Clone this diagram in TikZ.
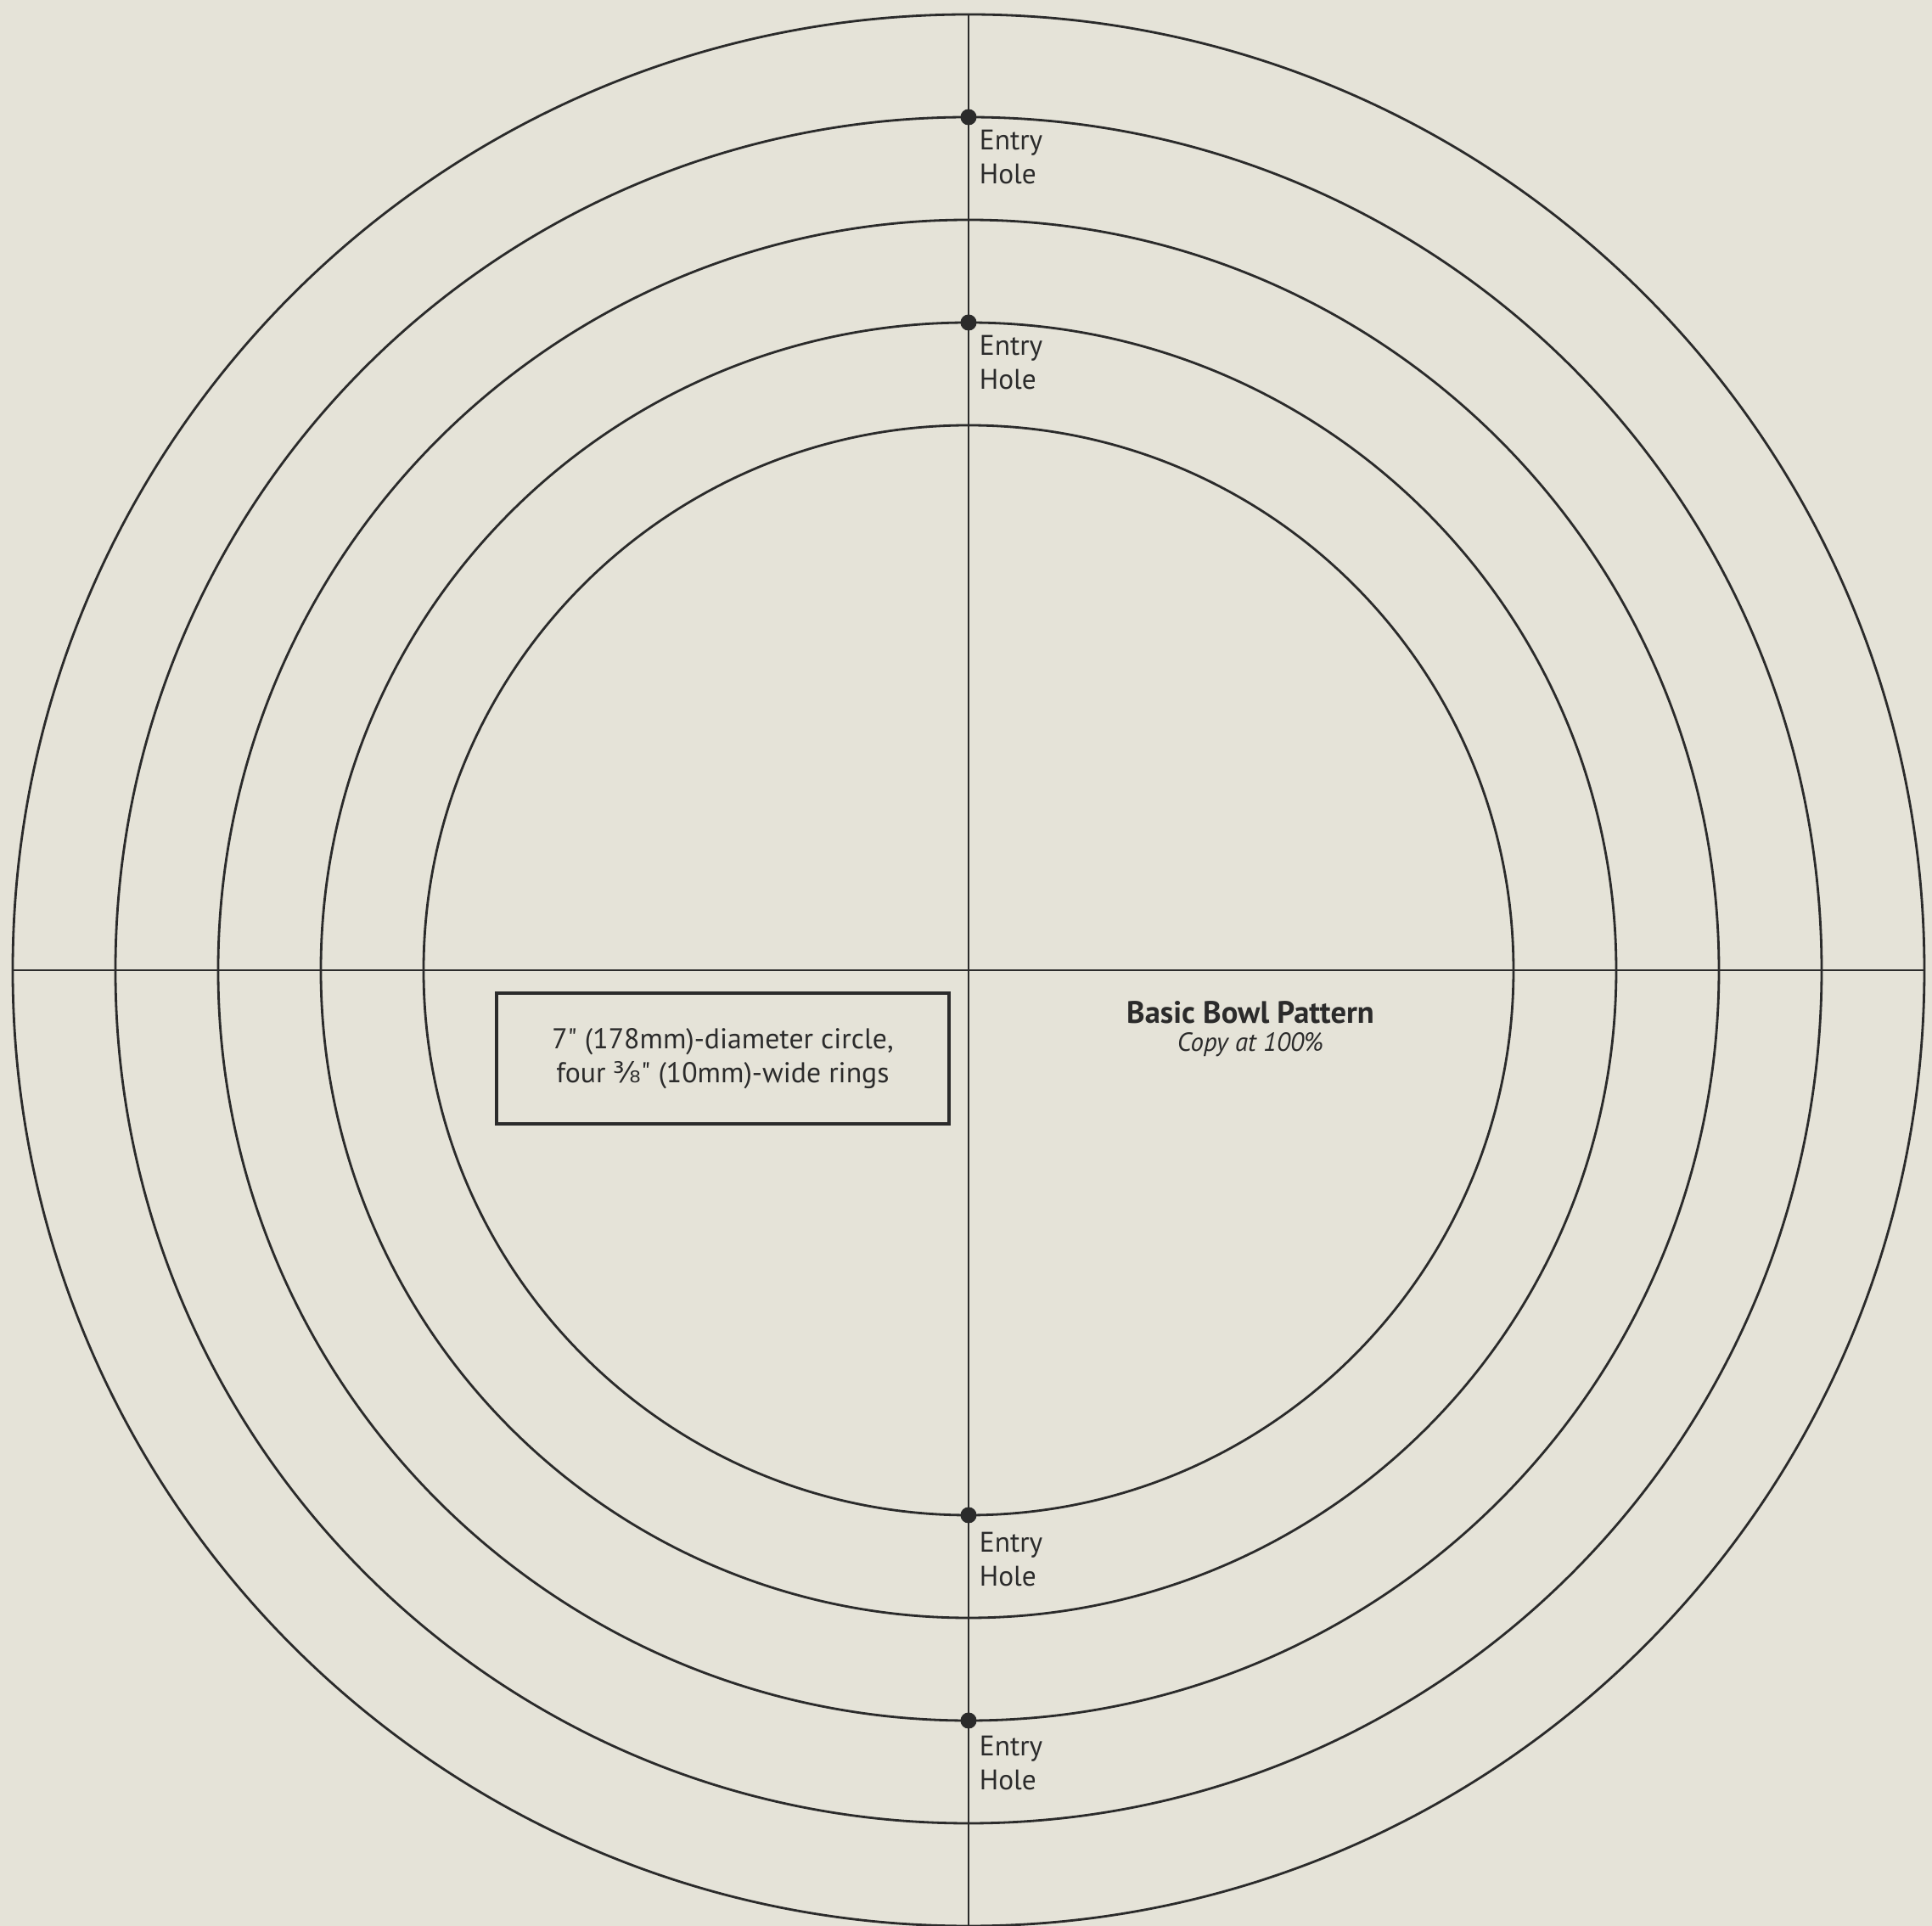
\documentclass[tikz,border=0pt]{standalone}
\usepackage{fontspec}
\setmainfont{PT Sans}
\newfontfamily\fracfont{DejaVu Sans}
\usetikzlibrary{positioning}
\definecolor{paper}{HTML}{E5E3D8}
\definecolor{ink}{HTML}{2B2B2B}

\tikzset{
  ring/.style={draw=ink, line width=0.8pt},
  hole/.style={circle, fill=ink, inner sep=0pt, minimum size=0.19cm},
  holelabel/.style={align=left, text=ink, inner sep=0pt,
    font=\fontsize{9.5}{11.4}\selectfont},
}

\begin{document}
\begin{tikzpicture}
  % Paper
  \fill[paper] (-11.41,-11.26) rectangle (11.35,11.43);
  \useasboundingbox (-11.41,-11.26) rectangle (11.35,11.43);

  % Inner circle and four rings
  \foreach \r in {6.42,7.63,8.84,10.05,11.26}
    \draw[ring] (0,0) circle (\r);

  % Center lines
  \coordinate (west) at (-11.26,0);
  \coordinate (east) at (11.26,0);
  \coordinate (north) at (0,11.26);
  \coordinate (south) at (0,-11.26);
  \draw[ring] (west) -- (east);
  \draw[ring] (north) -- (south);

  % Entry holes
  \node[hole] (h1) at (0,10.05) {};
  \node[hole] (h2) at (0,7.63) {};
  \node[hole] (h3) at (0,-6.42) {};
  \node[hole] (h4) at (0,-8.84) {};
  \node[holelabel, below right=0.07 and 0.05 of h1] (h1text) {Entry\\Hole};
  \node[holelabel, below right=0.07 and 0.05 of h2] (h2text) {Entry\\Hole};
  \node[holelabel, below right=0.12 and 0.05 of h3] (h3text) {Entry\\Hole};
  \node[holelabel, below right=0.10 and 0.05 of h4] (h4text) {Entry\\Hole};

  % Size note
  \node[draw=ink, line width=1.1pt, minimum width=5.33cm, minimum height=1.54cm,
        align=center, text=ink, font=\fontsize{9.6}{11.4}\selectfont]
    (note) at (-2.895,-1.04)
    {7\textquotedbl{} (178mm)-diameter circle,\\four {\fracfont ⅜}\textquotedbl{} (10mm)-wide rings};

  % Title
  \node[text=ink, font=\fontsize{10.4}{12}\selectfont\bfseries] (title) at (3.32,-0.50) {Basic Bowl Pattern};
  \node[text=ink, font=\fontsize{8.8}{10}\selectfont\itshape] (copy) at (3.32,-0.88) {Copy at 100\%};
\end{tikzpicture}
\end{document}
